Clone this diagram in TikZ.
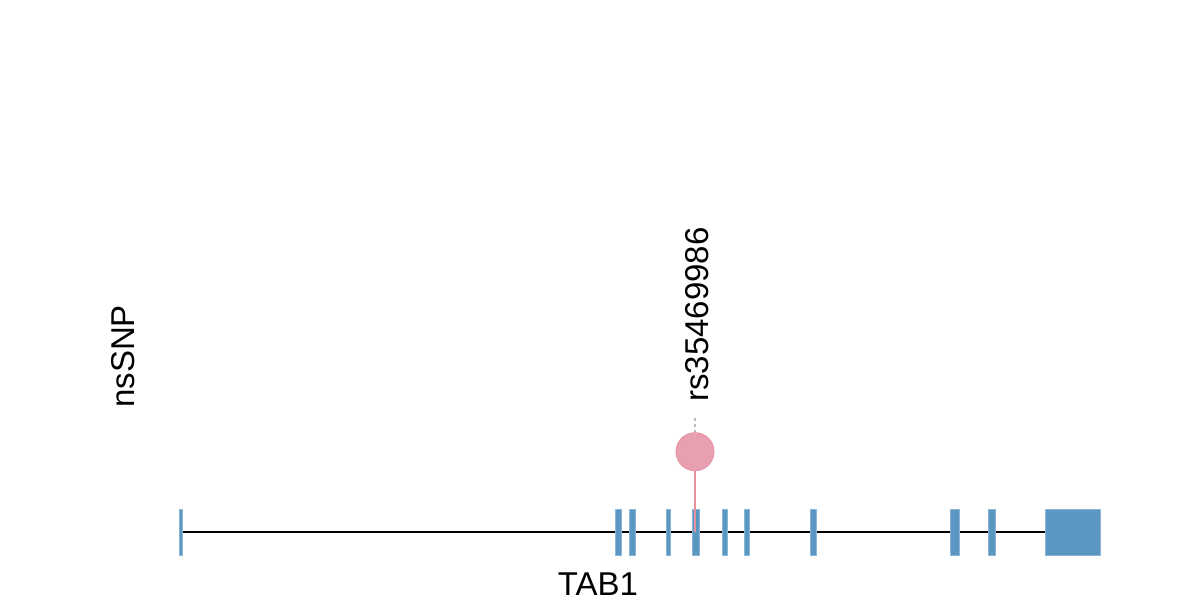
\documentclass[tikz,border=0pt]{standalone}
\usepackage{fontspec}
\setmainfont{Liberation Sans}
\definecolor{exonblue}{HTML}{5B97C3}
\definecolor{snppink}{HTML}{E8A0B0}
\definecolor{snpedge}{HTML}{E596AA}
\definecolor{stemgray}{HTML}{BBBBBB}
\begin{document}
\begin{tikzpicture}[x=1pt,y=-1pt,
  exon/.style={fill=exonblue,draw=exonblue!70!white,line width=0.8pt},
  lbl/.style={inner sep=0pt,font=\fontsize{33}{39}\selectfont}]
\useasboundingbox (0,0) rectangle (1200,600);
% backbone
\coordinate (gs) at (182,531.5);
\coordinate (ge) at (1046,531.5);
\draw[line width=2pt,black] (gs) -- (ge);
% exons
\foreach \a/\b in {179/182.5,615.3/621,629.3/635.7,666.3/670.7,692.7/699,722/727.3,744.3/749.7,810.7/816.7,950.7/959,988.3/995,1045.7/1100.7}
  \filldraw[exon] (\a,509) rectangle (\b,555);
% SNP
\node[circle,fill=snppink,draw=snpedge,line width=1pt,minimum size=38pt,inner sep=0pt] (snp) at (695,451.7) {};
\coordinate (snpbase) at (695,532);
\draw[snppink!90!red,line width=2pt] (snp.south) -- (snpbase);
\coordinate (stubtop) at (695,418);
\draw[stemgray,line width=1.5pt,dash pattern=on 3pt off 3pt] (stubtop) -- (snp.north);
% labels
\node[lbl,rotate=90,anchor=base west] (rs) at (708.5,402) {rs35469986};
\node[lbl,rotate=90,anchor=base west] (ns) at (134,408) {nsSNP};
\node[lbl,anchor=base] (gene) at (598,595) {TAB1};
\end{tikzpicture}
\end{document}
